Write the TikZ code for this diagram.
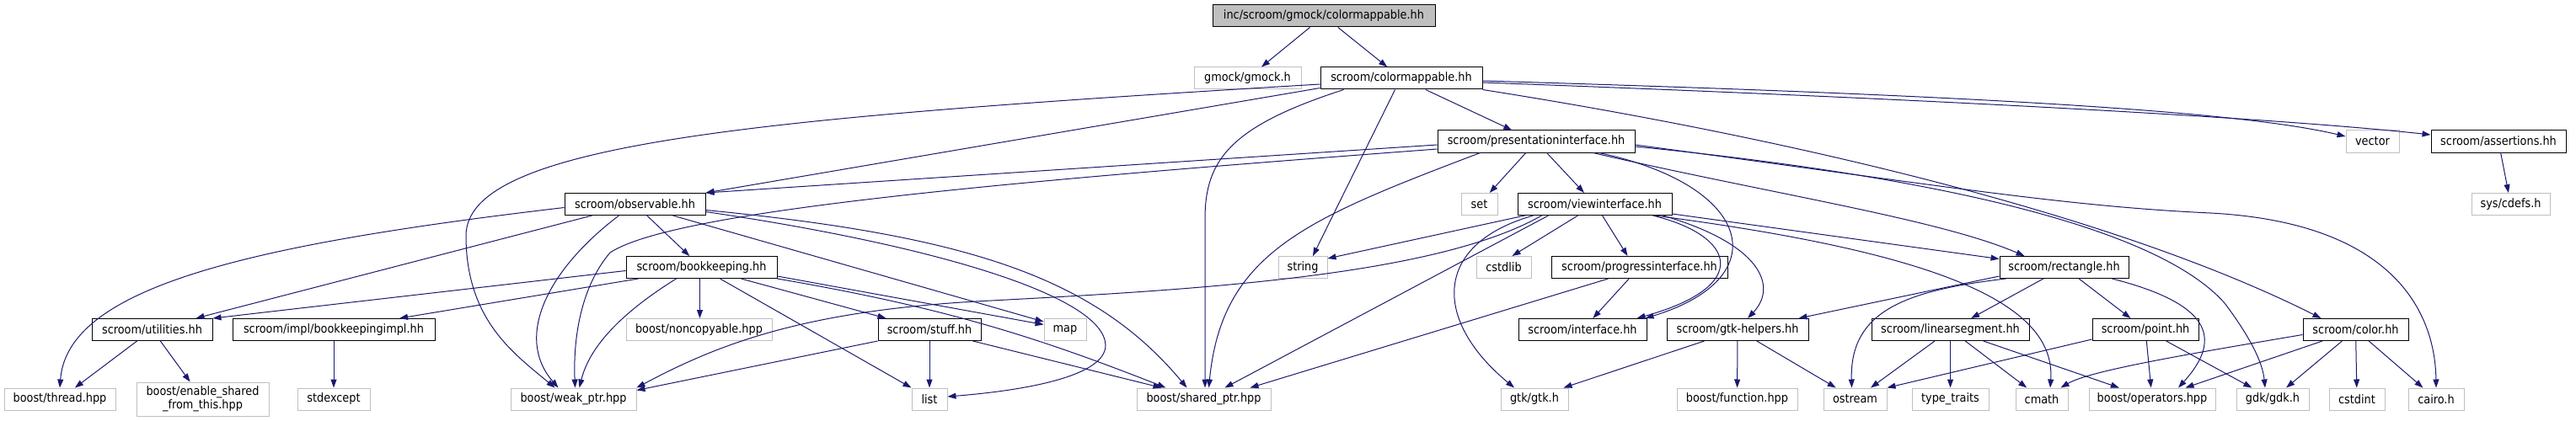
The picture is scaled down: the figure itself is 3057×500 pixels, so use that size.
\documentclass[tikz,border=0pt]{standalone}
\usepackage{fontspec}
\setmainfont{DejaVu Sans Condensed}
\usetikzlibrary{arrows.meta}
\definecolor{edgeblue}{HTML}{191970}
\definecolor{gray75}{HTML}{BFBFBF}
\newcommand{\fsz}{\fontsize{14.3}{16}\selectfont}
\tikzset{
  base/.style={rectangle, minimum height=26pt, inner sep=0pt, font=\fsz, line width=1pt, text=black},
  int/.style={base, draw=black, fill=white},
  ext/.style={base, draw=gray75, fill=white},
  root/.style={base, draw=black, fill=gray75},
  e/.style={draw=edgeblue, line width=1pt, -{Triangle[length=10pt,width=7pt]}},
}
\begin{document}
\begin{tikzpicture}[x=1pt,y=-1pt]
\useasboundingbox (0,0) rectangle (3057,500);
% row 0
\node[root, minimum width=264pt] (top) at (1571,19) {inc/scroom/gmock/colormappable.hh};
% row 1
\node[ext, minimum width=127pt] (gmock) at (1480.5,93) {gmock/gmock.h};
\node[int, minimum width=192pt] (cm) at (1663,93) {scroom/colormappable.hh};
% row 2
\node[int, minimum width=234pt] (pi) at (1823,168) {scroom/presentationinterface.hh};
\node[ext, minimum width=63pt] (vector) at (2815.5,168) {vector};
\node[int, minimum width=160pt] (as) at (2965,168) {scroom/assertions.hh};
% row 3
\node[int, minimum width=167pt] (obs) at (753.5,242.5) {scroom/observable.hh};
\node[ext, minimum width=43pt] (set) at (1755.5,242.5) {set};
\node[int, minimum width=183pt] (vi) at (1892.5,242.5) {scroom/viewinterface.hh};
\node[ext, minimum width=93pt] (sd) at (2979.5,242.5) {sys/cdefs.h};
% row 4
\node[int, minimum width=179pt] (bk) at (832.5,317.5) {scroom/bookkeeping.hh};
\node[ext, minimum width=58pt] (string) at (1546,317.5) {string};
\node[ext, minimum width=65pt] (cstdlib) at (1784.5,317.5) {cstdlib};
\node[int, minimum width=209pt] (prog) at (1945.5,317.5) {scroom/progressinterface.hh};
\node[int, minimum width=153pt] (rect) at (2449.5,317.5) {scroom/rectangle.hh};
% row 5
\node[int, minimum width=143pt] (ut) at (180.5,391.5) {scroom/utilities.hh};
\node[int, minimum width=240pt] (bki) at (396,391.5) {scroom/impl/bookkeepingimpl.hh};
\node[ext, minimum width=173pt] (nc) at (829.5,391.5) {boost/noncopyable.hpp};
\node[int, minimum width=122pt] (stuff) at (1103,391.5) {scroom/stuff.hh};
\node[ext, minimum width=50pt] (map) at (1264,391.5) {map};
\node[int, minimum width=152pt] (iface) at (1878,391.5) {scroom/interface.hh};
\node[int, minimum width=168pt] (gh) at (2062,391.5) {scroom/gtk-helpers.hh};
\node[int, minimum width=187pt] (ls) at (2314.5,391.5) {scroom/linearsegment.hh};
\node[int, minimum width=126pt] (point) at (2546,391.5) {scroom/point.hh};
\node[int, minimum width=125pt] (color) at (2795.5,391.5) {scroom/color.hh};
% row 6
\node[ext, minimum width=132pt] (thread) at (71,474) {boost/thread.hpp};
\node[ext, minimum width=157pt, minimum height=40pt, align=center] (es) at (240.5,474) {boost/enable\_shared\\\_from\_this.hpp};
\node[ext, minimum width=86pt] (stdexcept) at (396,474) {stdexcept};
\node[ext, minimum width=149pt] (wp) at (680.5,474) {boost/weak\_ptr.hpp};
\node[ext, minimum width=42pt] (list) at (1103,474) {list};
\node[ext, minimum width=159pt] (sp) at (1428.5,474) {boost/shared\_ptr.hpp};
\node[ext, minimum width=80pt] (gtk) at (1821,474) {gtk/gtk.h};
\node[ext, minimum width=143pt] (func) at (2061.5,474) {boost/function.hpp};
\node[ext, minimum width=75pt] (ostream) at (2201.5,474) {ostream};
\node[ext, minimum width=91pt] (tt) at (2314.5,474) {type\_traits};
\node[ext, minimum width=62pt] (cmath) at (2423,474) {cmath};
\node[ext, minimum width=150pt] (ops) at (2554,474) {boost/operators.hpp};
\node[ext, minimum width=86pt] (gdk) at (2697,474) {gdk/gdk.h};
\node[ext, minimum width=66pt] (cstdint) at (2797,474) {cstdint};
\node[ext, minimum width=66pt] (cairo) at (2891,474) {cairo.h};

% top
\draw[e] (top) -- (gmock);
\draw[e] (top) -- (cm);
% colormappable
\draw[e] ([yshift=2pt]cm.south west) -- (obs.north east);
\draw[e] ([yshift=-7pt]cm.west) .. controls (900,140) and (553,170) .. (553,280) .. controls (553,380) and (610,420) .. ([xshift=-22pt]wp.north);
\draw[e] ([xshift=28pt]cm.south west) .. controls (1460,150) and (1430,190) .. (1430,260) -- ([xshift=1.5pt]sp.north);
\draw[e] ([xshift=89pt]cm.south west) -- ([xshift=12pt]string.north);
\draw[e] (cm) -- (pi);
\draw[e] ([yshift=-3pt]cm.east) .. controls (2300,112) and (2650,130) .. ([yshift=6pt]vector.west);
\draw[e] ([yshift=-5pt]cm.east) .. controls (2300,118) and (2700,140) .. ([yshift=8pt]as.west);
\draw[e] (cm.south east) .. controls (2100,160) and (2500,250) .. ([xshift=22pt]color.north west);
% presentationinterface
\draw[e] ([yshift=-4pt]pi.west) -- (obs.north east);
\draw[e] ([yshift=-9pt]pi.west) .. controls (1200,215) and (800,250) .. (724,300) .. controls (690,340) and (680,400) .. ([xshift=2pt]wp.north);
\draw[e] ([xshift=51pt]pi.south west) .. controls (1550,260) and (1450,300) .. ([xshift=6pt]sp.north);
\draw[e] (pi) -- (set);
\draw[e] (pi) -- (vi);
\draw[e] ([xshift=192pt]pi.south west) .. controls (2080,220) and (2110,330) .. ([xshift=-2pt]iface.north east);
\draw[e] ([xshift=185pt]pi.south west) .. controls (2100,230) and (2300,260) .. ([xshift=30pt]rect.north west);
\draw[e] ([yshift=-6pt]pi.east) .. controls (2300,210) and (2560,270) .. (2640,360) .. controls (2670,400) and (2685,430) .. ([xshift=-9pt]gdk.north);
\draw[e] ([yshift=-4pt]pi.east) .. controls (2300,220) and (2450,245) .. (2623,253) .. controls (2850,265) and (2890,380) .. (cairo.north);
% viewinterface
\draw[e] ([xshift=9pt]vi.south west) -- ([yshift=-3pt]string.north east);
\draw[e] ([xshift=72pt]vi.south west) -- ([xshift=10pt]cstdlib.north);
\draw[e] ([xshift=101pt]vi.south west) -- ([xshift=-14pt]prog.north);
\draw[e] ([xshift=19pt]vi.south west) .. controls (1700,290) and (1700,380) .. ([xshift=-24pt]gtk.north);
\draw[e] ([xshift=29pt]vi.south west) .. controls (1700,330) and (1400,345) .. (1158,358) .. controls (950,370) and (850,410) .. (wp.north east);
\draw[e] ([xshift=37pt]vi.south west) -- ([xshift=25pt]sp.north);
\draw[e] ([xshift=161pt]vi.south west) .. controls (2060,280) and (2080,340) .. ([xshift=-12pt]iface.north east);
\draw[e] ([xshift=173pt]vi.south west) .. controls (2090,290) and (2110,340) .. ([xshift=12pt]gh.north);
\draw[e] ([yshift=2pt]vi.south east) -- ([yshift=10pt]rect.west);
\draw[e] ([xshift=163pt]vi.south west) .. controls (2300,300) and (2440,360) .. ([xshift=10pt]cmath.north);
% observable
\draw[e] ([yshift=-4pt]obs.west) .. controls (300,290) and (80,340) .. (thread.north);
\draw[e] ([xshift=33pt]obs.south west) -- ([xshift=-20pt]ut.north east);
\draw[e] ([xshift=65pt]obs.south west) .. controls (650,320) and (610,400) .. ([xshift=-18pt]wp.north);
\draw[e] (obs) -- (bk);
\draw[e] ([xshift=129pt]obs.south west) -- ([yshift=-4pt]map.north west);
\draw[e] ([yshift=-7pt]obs.east) .. controls (1150,280) and (1300,330) .. ([xshift=-20pt]sp.north);
\draw[e] ([yshift=-9pt]obs.east) .. controls (1100,290) and (1310,350) .. (1312,410) .. controls (1312,450) and (1200,465) .. ([yshift=3pt]list.east);
% bookkeeping
\draw[e] ([yshift=-4pt]bk.west) -- (ut.north east);
\draw[e] ([xshift=15pt]bk.south west) -- ([xshift=78pt]bki.north);
\draw[e] ([xshift=60pt]bk.south west) .. controls (740,370) and (700,410) .. ([xshift=7pt]wp.north);
\draw[e] ([xshift=-2pt]bk.south) -- ([xshift=1pt]nc.north);
\draw[e] ([xshift=112pt]bk.south west) -- (list.north west);
\draw[e] ([xshift=137pt]bk.south west) -- ([xshift=10pt]stuff.north west);
\draw[e] ([yshift=3pt]bk.south east) -- ([yshift=6pt]map.west);
\draw[e] (bk.south east) .. controls (1120,365) and (1230,400) .. ([xshift=-45pt]sp.north);
% stuff
\draw[e] (stuff.south west) -- ([yshift=-3pt]wp.north east);
\draw[e] (stuff) -- (list);
\draw[e] ([xshift=113pt]stuff.south west) -- ([xshift=-50pt]sp.north);
% utilities, bookkeepingimpl
\draw[e] (ut) -- (thread);
\draw[e] (ut) -- (es);
\draw[e] (bki) -- (stdexcept);
% progressinterface
\draw[e] (prog) -- (iface);
\draw[e] ([xshift=68pt]prog.south west) -- ([xshift=55pt]sp.north);
% gtk-helpers
\draw[e] ([xshift=45pt]gh.south west) -- ([xshift=-6pt]gtk.north east);
\draw[e] (gh) -- (func);
\draw[e] (gh) -- (ostream);
% rectangle
\draw[e] ([yshift=3pt]rect.south west) -- ([xshift=-12pt]gh.north east);
\draw[e] ([xshift=8pt]rect.south west) .. controls (2260,345) and (2195,370) .. ([xshift=-4pt]ostream.north);
\draw[e] (rect) -- (ls);
\draw[e] (rect) -- (point);
\draw[e] ([xshift=134pt]rect.south west) .. controls (2620,360) and (2640,400) .. ([xshift=31pt]ops.north);
% linearsegment
\draw[e] (ls) -- (ostream);
\draw[e] (ls) -- (tt);
\draw[e] (ls) -- (cmath);
\draw[e] (ls) -- (ops);
% point
\draw[e] ([yshift=2pt]point.south west) -- (ostream.north east);
\draw[e] (point) -- (ops);
\draw[e] (point) -- (gdk);
% color
\draw[e] ([yshift=-6pt]color.west) .. controls (2600,420) and (2480,440) .. ([xshift=-9pt]cmath.north east);
\draw[e] (color) -- (ops);
\draw[e] (color) -- (gdk);
\draw[e] (color) -- (cstdint);
\draw[e] (color) -- (cairo);
% assertions
\draw[e] (as) -- (sd);
\end{tikzpicture}
\end{document}
